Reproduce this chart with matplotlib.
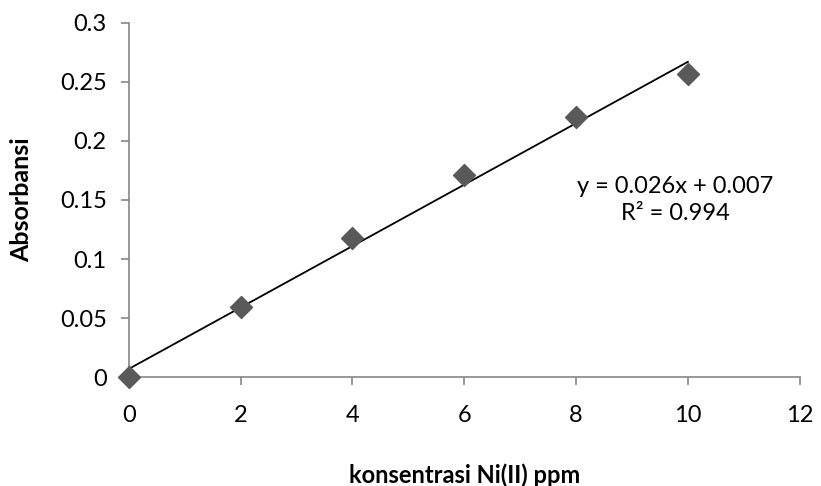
import matplotlib.pyplot as plt

# data
konsentrasi = [0, 2, 4, 6, 8, 10]
absorbansi = [0.0, 0.059, 0.118, 0.171, 0.220, 0.257]
slope = 0.026
intercept = 0.007
r_squared = 0.994

x_ticks = [0, 2, 4, 6, 8, 10, 12]
y_ticks = [0, 0.05, 0.1, 0.15, 0.2, 0.25, 0.3]
y_tick_labels = ['0', '0.05', '0.1', '0.15', '0.2', '0.25', '0.3']

plt.rcParams['font.family'] = ['Lato', 'DejaVu Sans']

fig = plt.figure(figsize=(8.21, 4.86), dpi=100)
ax = fig.add_axes([0.157, 0.224, 0.817, 0.729])

ax.scatter(konsentrasi, absorbansi, marker='D', s=125, color='#595959', zorder=3, clip_on=False)

# linear trendline as shown in the chart
x_line = [konsentrasi[0], konsentrasi[-1]]
y_line = [slope * x + intercept for x in x_line]
ax.plot(x_line, y_line, color='black', linewidth=1.3, zorder=2)

ax.text(9.77, 0.150, f'y = {slope}x + {intercept}\nR² = {r_squared}',
        ha='center', va='center', fontsize=17, linespacing=1.4)

ax.set_xlim(0, 12)
ax.set_ylim(0, 0.3)
ax.set_xticks(x_ticks)
ax.set_yticks(y_ticks)
ax.set_yticklabels(y_tick_labels)
ax.tick_params(axis='both', labelsize=17, color='#868686', length=6, width=1.2)
ax.tick_params(axis='x', pad=14)
ax.tick_params(axis='y', pad=10)

for side in ['top', 'right']:
    ax.spines[side].set_visible(False)
for side in ['left', 'bottom']:
    ax.spines[side].set_color('#868686')
    ax.spines[side].set_linewidth(1.2)

ax.set_xlabel('konsentrasi Ni(II) ppm', fontsize=17, fontweight='bold', labelpad=27)
ax.set_ylabel('Absorbansi', fontsize=18, fontweight='bold', labelpad=19)

fig.savefig('out.png', dpi=100)
